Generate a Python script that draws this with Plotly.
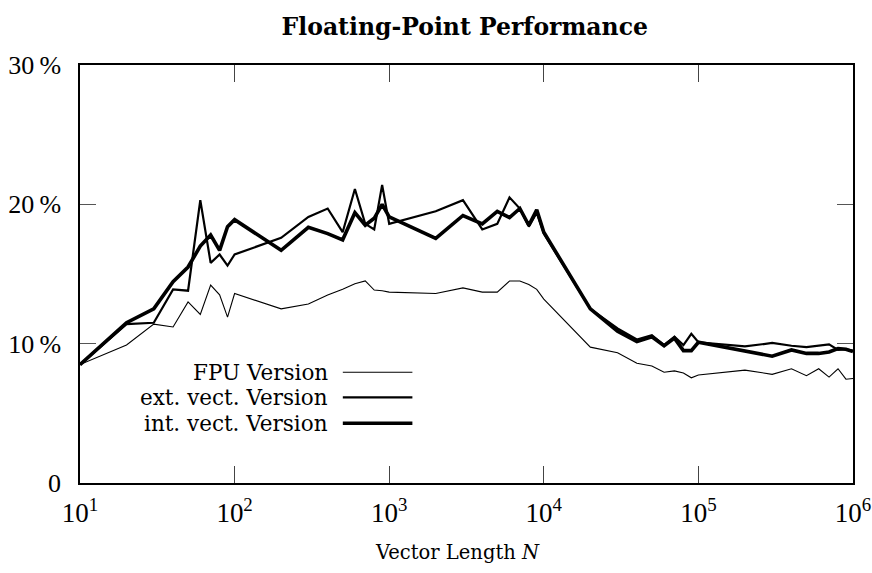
import plotly.graph_objects as go

N = [10, 20, 30, 40, 50, 60, 70, 80, 90,
     100, 200, 300, 400, 500, 600, 700, 800, 900,
     1000, 2000, 3000, 4000, 5000, 6000, 7000, 8000, 9000,
     10000, 20000, 30000, 40000, 50000, 60000, 70000, 80000, 90000,
     100000, 200000, 300000, 400000, 500000, 600000, 700000, 800000, 900000,
     1000000]

fpu = [8.5, 9.9, 11.4, 11.2, 13.0, 12.1, 14.2, 13.5, 11.9,
       13.6, 12.5, 12.85, 13.5, 13.9, 14.3, 14.5, 13.85, 13.8,
       13.7, 13.6, 14.0, 13.7, 13.7, 14.5, 14.5, 14.25, 13.9,
       13.2, 9.75, 9.35, 8.6, 8.4, 7.95, 8.05, 7.9, 7.55,
       7.75, 8.1, 7.8, 8.2, 7.7, 8.2, 7.6, 8.2, 7.45,
       7.5]

ext = [8.5, 11.4, 11.5, 13.9, 13.8, 20.3, 15.8, 16.4, 15.6,
       16.4, 17.6, 19.1, 19.7, 18.0, 21.1, 18.6, 18.2, 21.4,
       18.6, 19.5, 20.3, 18.2, 18.6, 20.5, 19.7, 18.4, 19.4,
       17.9, 12.5, 11.1, 10.3, 10.6, 9.9, 10.5, 9.9, 10.7,
       10.1, 9.8, 10.05, 9.85, 9.75, 9.85, 9.95, 9.55, 9.6,
       9.5]

intv = [8.5, 11.5, 12.5, 14.45, 15.5, 17.0, 17.8, 16.7, 18.4,
        18.9, 16.7, 18.35, 17.9, 17.45, 19.4, 18.5, 19.0, 20.0,
        19.1, 17.55, 19.2, 18.6, 19.5, 19.05, 19.7, 18.5, 19.6,
        18.0, 12.5, 10.9, 10.15, 10.5, 9.85, 10.4, 9.5, 9.5,
        10.1, 9.43, 9.1, 9.55, 9.3, 9.3, 9.4, 9.65, 9.6,
        9.43]

series_names = ["FPU Version", "ext. vect. Version", "int. vect. Version"]
series_widths = [1.1, 2.2, 3.6]

x_tickvals = [10, 100, 1000, 10000, 100000, 1000000]
x_ticktext = ["10<sup>1</sup>", "10<sup>2</sup>", "10<sup>3</sup>",
              "10<sup>4</sup>", "10<sup>5</sup>", "10<sup>6</sup>"]
y_tickvals = [0, 10, 20, 30]
y_ticktext = ["0", "10\u2009%", "20\u2009%", "30\u2009%"]

TICKFONT = "Liberation Serif"
TEXTFONT = "DejaVu Serif"

fig = go.Figure()
for name, ys, w in zip(series_names, [fpu, ext, intv], series_widths):
    fig.add_trace(go.Scatter(x=N, y=ys, mode="lines", name=name,
                             line=dict(color="black", width=w),
                             showlegend=False))

# legend drawn manually: text right-aligned, line sample on the right
leg_y = [0.265, 0.205, 0.143]
for name, w, yy in zip(series_names, series_widths, leg_y):
    fig.add_annotation(xref="paper", yref="paper", x=0.323, y=yy,
                       text=name, showarrow=False, xanchor="right",
                       yanchor="middle",
                       font=dict(family=TEXTFONT, size=21.5, color="black"))
    fig.add_shape(type="line", xref="paper", yref="paper",
                  x0=0.340, x1=0.430, y0=yy, y1=yy,
                  line=dict(color="black", width=w))

# x-axis title (slightly left of plot centre, as in the reference)
fig.add_annotation(xref="paper", yref="paper", x=0.488, y=-0.167,
                   text="Vector Length <i>N</i>", showarrow=False,
                   xanchor="center", yanchor="middle",
                   font=dict(family=TEXTFONT, size=19.5, color="black"))

fig.update_layout(
    width=872, height=573,
    margin=dict(l=80, r=19, t=65, b=90),
    plot_bgcolor="white", paper_bgcolor="white",
    font=dict(family=TEXTFONT, color="black"),
    title=dict(text="<b>Floating-Point Performance</b>", x=0.533, xanchor="center",
               y=0.953, yanchor="middle",
               font=dict(family=TEXTFONT, size=23.5, color="black")),
)
fig.update_xaxes(type="log", range=[1, 6], tickvals=x_tickvals, ticktext=x_ticktext,
                 ticks="inside", ticklen=17, tickcolor="#444", tickwidth=1,
                 showline=True, linecolor="black", linewidth=1.5, mirror="ticks",
                 showgrid=False, zeroline=False, ticklabelstandoff=5,
                 automargin=False,
                 tickfont=dict(family=TICKFONT, size=27))
fig.update_yaxes(range=[0, 30], tickvals=y_tickvals, ticktext=y_ticktext,
                 ticks="inside", ticklen=16, tickcolor="#555", tickwidth=1,
                 showline=True, linecolor="black", linewidth=1.5, mirror="ticks",
                 showgrid=False, zeroline=False, ticklabelstandoff=12,
                 automargin=False,
                 tickfont=dict(family=TICKFONT, size=26))

fig.write_html("out.html")
